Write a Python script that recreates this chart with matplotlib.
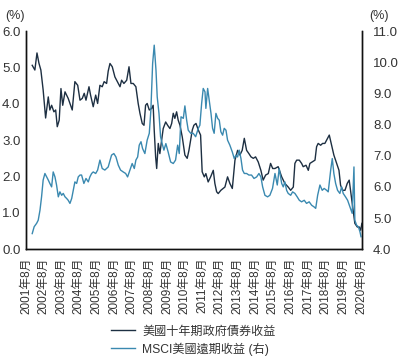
import numpy as np
import matplotlib
matplotlib.use("Agg")
import matplotlib.pyplot as plt

plt.rcParams['font.family'] = ['Liberation Sans', 'Noto Sans CJK TC']

# US 10y treasury yield (left axis), decimal years
ust_t = [2001.94, 2002.09, 2002.21, 2002.32, 2002.43, 2002.56, 2002.70, 2002.85, 2002.94, 2003.04,
         2003.17, 2003.27, 2003.36, 2003.47, 2003.57, 2003.67, 2003.80, 2003.98, 2004.21, 2004.36,
         2004.52, 2004.65, 2004.78, 2004.89, 2004.99, 2005.16, 2005.25, 2005.40, 2005.54, 2005.65,
         2005.78, 2005.91, 2006.02, 2006.16, 2006.25, 2006.35, 2006.48, 2006.63, 2006.82, 2006.92,
         2007.01, 2007.14, 2007.30, 2007.43, 2007.54, 2007.67, 2007.82, 2007.95, 2008.05, 2008.18,
         2008.28, 2008.37, 2008.46, 2008.58, 2008.71, 2008.80, 2008.86, 2008.94, 2009.00, 2009.09,
         2009.18, 2009.28, 2009.37, 2009.51, 2009.62, 2009.75, 2009.85, 2009.94, 2010.03, 2010.13,
         2010.22, 2010.32, 2010.45, 2010.60, 2010.73, 2010.83, 2011.02, 2011.11, 2011.23, 2011.36,
         2011.49, 2011.58, 2011.70, 2011.79, 2011.92, 2012.06, 2012.21, 2012.30, 2012.40, 2012.49,
         2012.64, 2012.77, 2012.87, 2013.02, 2013.15, 2013.29, 2013.44, 2013.59, 2013.72, 2013.85,
         2013.97, 2014.10, 2014.23, 2014.35, 2014.48, 2014.61, 2014.76, 2014.91, 2015.04, 2015.18,
         2015.33, 2015.46, 2015.58, 2015.71, 2015.89, 2016.09, 2016.27, 2016.46, 2016.60, 2016.75,
         2016.84, 2016.94, 2017.09, 2017.22, 2017.31, 2017.47, 2017.60, 2017.69, 2017.82, 2017.98,
         2018.07, 2018.16, 2018.30, 2018.41, 2018.54, 2018.64, 2018.79, 2018.92, 2019.05, 2019.21,
         2019.34, 2019.43, 2019.55, 2019.68, 2019.81, 2019.92, 2020.02, 2020.15, 2020.24, 2020.38,
         2020.49, 2020.57, 2020.64]
ust_v = [5.06, 4.93, 5.40, 5.12, 4.93, 4.38, 3.61, 4.19, 3.83, 3.96,
         3.78, 3.83, 3.37, 3.55, 4.42, 3.96, 4.33, 4.15, 3.83, 4.61,
         4.51, 4.10, 4.15, 4.29, 4.10, 4.47, 4.24, 3.92, 4.24, 4.01,
         4.51, 4.47, 4.61, 4.56, 4.90, 5.11, 5.02, 4.74, 4.56, 4.47,
         4.65, 4.56, 4.65, 5.02, 4.56, 4.56, 4.47, 4.01, 3.74, 3.46,
         3.41, 3.96, 4.01, 3.83, 3.87, 3.96, 3.28, 2.54, 2.22, 2.91,
         2.63, 3.00, 3.32, 3.50, 3.41, 3.32, 3.46, 3.74, 3.60, 3.78,
         3.55, 3.41, 3.09, 2.59, 2.50, 2.72, 3.28, 3.41, 3.46, 3.28,
         3.14, 2.13, 1.99, 2.08, 1.85, 1.99, 2.17, 1.81, 1.58, 1.53,
         1.62, 1.67, 1.71, 1.99, 1.81, 1.67, 2.45, 2.72, 2.59, 2.72,
         3.05, 2.72, 2.63, 2.54, 2.50, 2.54, 2.40, 2.17, 1.90, 2.04,
         2.08, 2.36, 2.22, 2.22, 2.27, 1.99, 1.81, 1.71, 1.62, 1.71,
         2.36, 2.45, 2.45, 2.36, 2.27, 2.31, 2.17, 2.36, 2.40, 2.45,
         2.82, 2.91, 2.86, 2.91, 2.91, 3.00, 3.14, 2.86, 2.59, 2.36,
         2.17, 1.76, 1.62, 1.62, 1.81, 1.90, 1.53, 1.03, 0.71, 0.61,
         0.61, 0.52, 0.71]

# MSCI US forward earnings yield (right axis)
msci_t = [2001.94, 2002.05, 2002.19, 2002.28, 2002.38, 2002.47, 2002.56, 2002.66, 2002.76, 2002.85,
          2002.94, 2003.04, 2003.13, 2003.23, 2003.32, 2003.42, 2003.51, 2003.61, 2003.70, 2003.80,
          2003.89, 2003.98, 2004.08, 2004.18, 2004.27, 2004.36, 2004.46, 2004.55, 2004.65, 2004.74,
          2004.87, 2004.99, 2005.12, 2005.21, 2005.31, 2005.40, 2005.54, 2005.65, 2005.78, 2005.91,
          2006.06, 2006.25, 2006.44, 2006.57, 2006.69, 2006.82, 2006.95, 2007.10, 2007.24, 2007.35,
          2007.48, 2007.61, 2007.73, 2007.82, 2007.92, 2008.01, 2008.11, 2008.20, 2008.33, 2008.46,
          2008.58, 2008.67, 2008.77, 2008.86, 2008.96, 2009.03, 2009.13, 2009.22, 2009.31, 2009.41,
          2009.52, 2009.65, 2009.79, 2009.94, 2010.07, 2010.19, 2010.28, 2010.38, 2010.51, 2010.60,
          2010.70, 2010.79, 2010.93, 2011.07, 2011.21, 2011.36, 2011.45, 2011.55, 2011.64, 2011.74,
          2011.79, 2011.89, 2011.98, 2012.08, 2012.17, 2012.26, 2012.36, 2012.46, 2012.55, 2012.64,
          2012.74, 2012.83, 2012.93, 2013.02, 2013.15, 2013.29, 2013.40, 2013.50, 2013.59, 2013.68,
          2013.78, 2013.87, 2013.97, 2014.10, 2014.23, 2014.38, 2014.52, 2014.67, 2014.80, 2014.91,
          2015.01, 2015.14, 2015.29, 2015.42, 2015.57, 2015.71, 2015.84, 2015.95, 2016.09, 2016.18,
          2016.27, 2016.37, 2016.46, 2016.60, 2016.71, 2016.84, 2016.97, 2017.09, 2017.22, 2017.37,
          2017.50, 2017.65, 2017.79, 2017.92, 2018.02, 2018.13, 2018.26, 2018.39, 2018.50, 2018.64,
          2018.73, 2018.87, 2018.96, 2019.05, 2019.15, 2019.26, 2019.39, 2019.49, 2019.58, 2019.71,
          2019.83, 2019.96, 2020.09, 2020.19, 2020.24, 2020.34, 2020.44, 2020.53, 2020.59]
msci_v = [4.50, 4.72, 4.83, 4.93, 5.25, 5.68, 6.22, 6.43, 6.32, 6.22,
          6.11, 6.00, 6.48, 6.32, 6.06, 5.68, 5.84, 5.73, 5.79, 5.68,
          5.63, 5.57, 5.47, 5.63, 5.89, 6.16, 6.11, 6.32, 6.38, 6.38,
          6.11, 6.27, 6.16, 6.32, 6.43, 6.48, 6.43, 6.54, 6.86, 6.59,
          6.54, 6.64, 7.02, 7.07, 6.96, 6.70, 6.54, 6.48, 6.43, 6.32,
          6.54, 6.75, 6.59, 6.86, 6.96, 7.34, 7.45, 7.23, 7.07, 7.50,
          7.72, 8.46, 9.96, 10.55, 9.75, 8.89, 8.36, 7.61, 7.39, 7.18,
          7.39, 7.12, 6.80, 6.75, 6.86, 7.34, 7.07, 8.25, 8.20, 8.60,
          8.14, 7.82, 7.72, 7.72, 7.61, 7.88, 7.98, 8.68, 9.16, 9.05,
          8.52, 9.16, 8.79, 8.36, 7.88, 7.72, 8.36, 8.20, 8.14, 7.77,
          7.66, 7.88, 7.82, 7.50, 7.34, 7.12, 6.91, 7.02, 6.96, 7.18,
          6.91, 6.54, 6.43, 6.43, 6.38, 6.38, 6.27, 6.32, 6.43, 6.32,
          6.00, 5.73, 5.68, 5.73, 5.95, 6.43, 6.06, 6.59, 6.11, 6.00,
          6.16, 5.89, 5.79, 5.73, 5.84, 5.79, 5.68, 5.57, 5.52, 5.57,
          5.47, 5.52, 5.41, 5.36, 5.31, 5.73, 6.06, 5.89, 5.95, 5.89,
          5.84, 6.54, 6.91, 6.43, 6.11, 5.89, 5.79, 6.00, 5.79, 5.68,
          5.57, 5.36, 5.15, 6.64, 4.93, 4.77, 4.72, 4.56, 4.40]

tick_years = list(range(2001, 2021))
tick_labels = ["%d年8月" % y for y in tick_years]

dark = '#1d2f42'
blue = '#3a89b0'
txt = '#333333'

fig = plt.figure(figsize=(3.99, 3.58), dpi=100)
ax = fig.add_axes([0.065, 0.304, 0.842, 0.609])
ax2 = ax.twinx()

l1, = ax.plot(ust_t, ust_v, color=dark, lw=1.0, label='美國十年期政府債券收益')
l2, = ax2.plot(msci_t, msci_v, color=blue, lw=1.0, label='MSCI美國遠期收益 (右)')

ax.set_xlim(2001 + 7 / 12, 2020.64)
ax.set_ylim(0, 6)
ax2.set_ylim(4, 11)
ax.set_yticks(np.arange(0, 6.1, 1))
ax.set_yticklabels(["%.1f" % v for v in np.arange(0, 6.1, 1)])
ax2.set_yticks(np.arange(4, 11.1, 1))
ax2.set_yticklabels(["%.1f" % v for v in np.arange(4, 11.1, 1)])
ax.set_xticks([y + 7 / 12 for y in tick_years])
ax.set_xticklabels(tick_labels, rotation=90, fontsize=8.5, color=txt)

for a in (ax, ax2):
    a.spines['top'].set_visible(False)
    for s in ('left', 'right', 'bottom'):
        a.spines[s].set_linewidth(1.0)
        a.spines[s].set_color('#111111')
    a.tick_params(length=0, labelsize=9.5, labelcolor=txt)
ax.tick_params(axis='y', pad=4)
ax2.tick_params(axis='y', pad=8)
ax.tick_params(axis='x', pad=6, labelsize=8.5)

fig.text(0.012, 0.955, '(%)', fontsize=9, color=txt, va='center')
fig.text(0.925, 0.955, '(%)', fontsize=9, color=txt, va='center')

fig.legend(handles=[l1, l2], loc='center left', bbox_to_anchor=(0.251, 0.049),
           frameon=False, fontsize=8.7, handlelength=2.0, labelspacing=0.4,
           handletextpad=0.6, labelcolor=txt)

fig.savefig('out.png', dpi=100)
